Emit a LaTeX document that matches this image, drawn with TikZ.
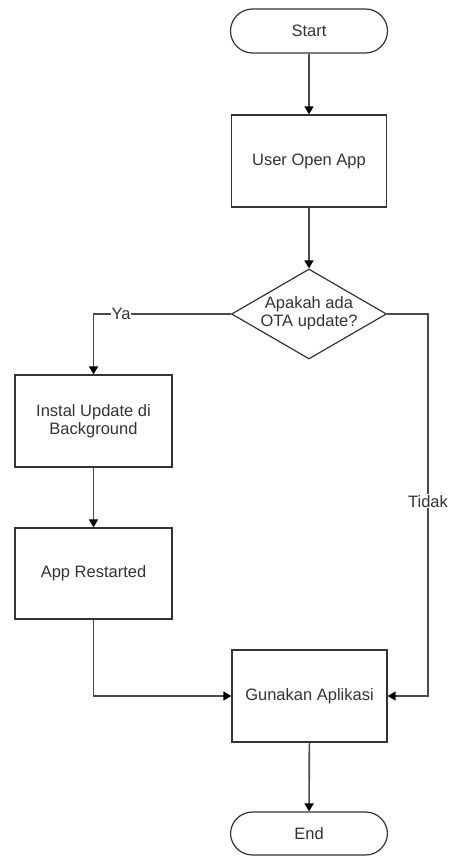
\documentclass[tikz,border=0pt]{standalone}
\usepackage{fontspec}
\setmainfont{Liberation Sans}
\usetikzlibrary{shapes.geometric,arrows.meta}
\definecolor{txt}{HTML}{333333}
\definecolor{ln}{HTML}{4A4A4A}
\begin{document}
\begin{tikzpicture}[x=1pt,y=1pt,
  font=\fontsize{16.5}{18}\selectfont, text=txt,
  proc/.style={draw=black!80, line width=1.3pt, minimum width=155pt, minimum height=92pt, inner sep=0pt, align=center},
  term/.style={draw=black!80, line width=1.2pt, minimum width=157pt, minimum height=44pt, rounded corners=22pt, inner sep=0pt},
  dec/.style={draw=black!80, line width=1.2pt, diamond, minimum width=155pt, minimum height=90pt, inner sep=0pt},
  conn/.style={draw=ln, line width=1.6pt, -{Triangle[length=8pt,width=9pt,color=black]}},
  lab/.style={fill=white, inner sep=1pt}
]
\useasboundingbox (0,0) rectangle (449,-856);
\node[term] (start) at (309,-31) {Start};
\node[proc] (user) at (309,-161) {User Open App};
\node[dec] (dec) at (309,-314) {};
\node[align=center] (dectext) at (309,-313) {Apakah ada\\OTA update?};
\node[proc, minimum width=157pt] (instal) at (93.5,-421) {Instal Update di\\Background};
\node[proc, minimum width=157pt, minimum height=91pt] (app) at (93.5,-573.5) {App Restarted};
\node[proc] (guna) at (309.5,-696) {Gunakan Aplikasi};
\node[term, minimum height=43pt] (end) at (309,-833.5) {End};
\coordinate (tc1) at (428,-314);
\coordinate (tc2) at (428,-696);
\draw[conn] (start) -- (user);
\draw[conn] (user) -- (dec);
\draw[conn] (dec.west) -| node[lab, pos=0.4] (ya) {Ya} (instal.north);
\draw[conn] (dec.east) -- (tc1) -- node[lab, pos=0.49] (tidak) {Tidak} (tc2) -- (guna.east);
\draw[conn] (instal) -- (app);
\draw[conn] (app.south) |- (guna.west);
\draw[conn] (guna) -- (end);
\end{tikzpicture}
\end{document}
